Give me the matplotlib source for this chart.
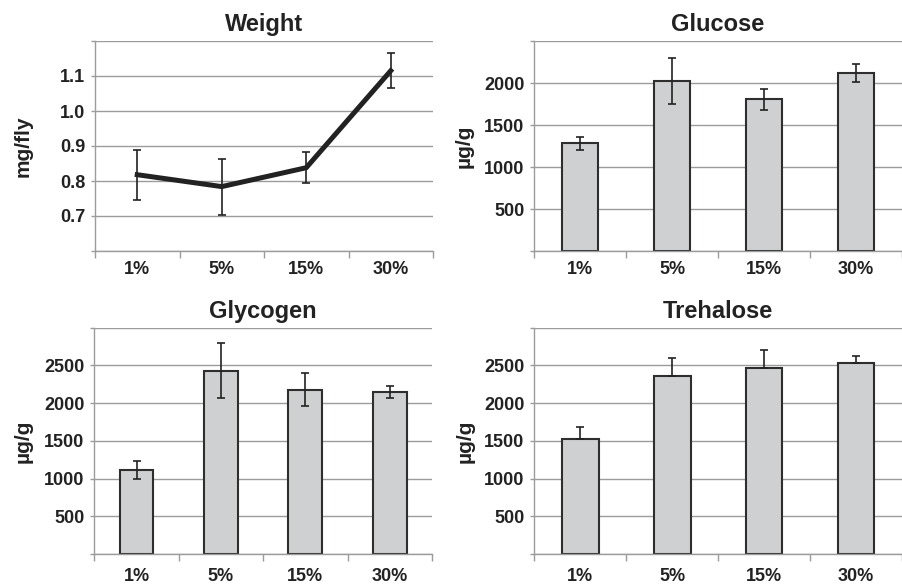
import numpy as np
import matplotlib
matplotlib.use("Agg")
import matplotlib.pyplot as plt

plt.rcParams['font.family'] = ['Liberation Sans', 'DejaVu Sans']
plt.rcParams['font.weight'] = 'bold'

cats = ['1%', '5%', '15%', '30%']

weight = [0.818, 0.784, 0.838, 1.115]
weight_err = [0.072, 0.080, 0.044, 0.050]

glucose = [1280, 2023, 1806, 2121]
glucose_err = [82, 272, 128, 110]

glycogen = [1112, 2427, 2180, 2145]
glycogen_err = [121, 364, 216, 77]

trehalose = [1526, 2359, 2465, 2526]
trehalose_err = [158, 234, 242, 97]

GRID = '#9c9c9c'
BAR = '#cfd0d2'
EDGE = '#2e2e2e'
TXT = '#222222'

fig = plt.figure(figsize=(9.02, 5.87), dpi=100)
ax1 = fig.add_axes([95/902, 1-251/587, 338/902, 210/587])
ax2 = fig.add_axes([534/902, 1-251/587, 368/902, 210/587])
ax3 = fig.add_axes([94.3/902, 1-554/587, 337.7/902, 226.3/587])
ax4 = fig.add_axes([534.3/902, 1-554/587, 367.7/902, 226.3/587])

x = np.arange(len(cats))


def style(ax, title, ylabel, yticks, ylabels, ylabelx, xpad):
    ax.set_xlim(-0.5, len(cats) - 0.5)
    ax.set_ylim(yticks[0], yticks[-1])
    ax.set_yticks(yticks)
    ax.set_yticklabels(ylabels, fontsize=13, fontweight='bold', color=TXT)
    # ticks sit between the categories, labels in the middle
    ax.set_xticks(np.arange(len(cats) + 1) - 0.5)
    ax.set_xticklabels([])
    ax.set_xticks(x, minor=True)
    ax.set_xticklabels(cats, minor=True, fontsize=13, fontweight='bold', color=TXT)
    ax.tick_params(axis='x', which='minor', length=0, pad=xpad)
    ax.tick_params(axis='x', which='major', length=5, width=1, color=GRID, direction='out')
    ax.tick_params(axis='y', length=3, width=1, color=GRID, direction='out', pad=4)
    ax.grid(axis='y', color=GRID, linewidth=1)
    ax.set_axisbelow(True)
    for s in ['top', 'right']:
        ax.spines[s].set_visible(False)
    for s in ['left', 'bottom']:
        ax.spines[s].set_color(GRID)
        ax.spines[s].set_linewidth(1)
    ax.set_title(title, fontsize=17, fontweight='bold', color=TXT, pad=7)
    ax.set_ylabel(ylabel, fontsize=15, fontweight='bold', color=TXT)
    ax.yaxis.set_label_coords(ylabelx, 0.5)


def bars(ax, vals, errs, plus_only=False):
    ax.bar(x, vals, width=0.4, color=BAR, edgecolor=EDGE, linewidth=1.5, zorder=2)
    yerr = [np.zeros(len(errs)), errs] if plus_only else errs
    ax.errorbar(x, vals, yerr=yerr, fmt='none', ecolor=TXT,
                elinewidth=1.2, capsize=3, capthick=1.2, zorder=3)


# weight line
ax1.errorbar(x, weight, yerr=weight_err, color=TXT, linewidth=3.6,
             elinewidth=1.2, capsize=3, capthick=1.2, zorder=3)
style(ax1, 'Weight', 'mg/fly', [0.6, 0.7, 0.8, 0.9, 1.0, 1.1, 1.2],
      ['', '0.7', '0.8', '0.9', '1.0', '1.1', ''], -0.186, 7)

bars(ax2, glucose, glucose_err)
style(ax2, 'Glucose', 'µg/g', [0, 500, 1000, 1500, 2000, 2500],
      ['', '500', '1000', '1500', '2000', ''], -0.163, 7)

bars(ax3, glycogen, glycogen_err)
style(ax3, 'Glycogen', 'µg/g', [0, 500, 1000, 1500, 2000, 2500, 3000],
      ['', '500', '1000', '1500', '2000', '2500', ''], -0.184, 10)

bars(ax4, trehalose, trehalose_err, plus_only=True)
style(ax4, 'Trehalose', 'µg/g', [0, 500, 1000, 1500, 2000, 2500, 3000],
      ['', '500', '1000', '1500', '2000', '2500', ''], -0.161, 10)

fig.savefig('out.png', dpi=100)
